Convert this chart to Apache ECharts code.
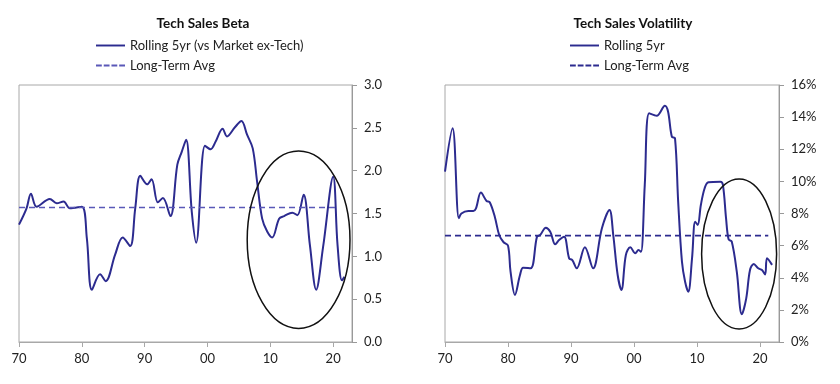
<!DOCTYPE html>
<html><head><meta charset="utf-8">
<script src="https://cdn.jsdelivr.net/npm/echarts@6/dist/echarts.min.js"></script>
<style>
html,body{margin:0;padding:0;background:#fff;}
#wrap{position:relative;width:840px;height:384px;}
#c1{position:absolute;left:0;top:0;width:420px;height:384px;}
#c2{position:absolute;left:420px;top:0;width:420px;height:384px;}
</style></head>
<body><div id="wrap"><div id="c1"></div><div id="c2"></div></div>
<script>
// ---- Data: Tech Sales Beta (rolling 5yr vs Market ex-Tech) ----
const betaYears = [1970.0,1971.2,1971.9,1972.8,1974.9,1976.0,1977.1,1978.1,1980.0,1980.8,1981.6,1982.9,1983.8,1985.3,1986.5,1987.7,1988.5,1989.3,1990.4,1991.1,1992.1,1992.9,1994.1,1995.2,1995.9,1996.6,1997.5,1998.2,1999.6,2000.5,2001.3,2002.4,2003.1,2004.4,2005.4,2006.3,2007.2,2007.9,2008.7,2009.5,2010.3,2011.4,2012.2,2013.5,2014.3,2015.3,2016.3,2017.3,2018.4,2020.0,2020.7,2021.4,2021.8];
const betaValues = [1.37,1.56,1.73,1.58,1.67,1.62,1.64,1.56,1.58,1.21,0.61,0.79,0.71,1.02,1.22,1.12,1.56,1.94,1.84,1.90,1.63,1.68,1.47,2.07,2.22,2.36,1.52,1.16,2.29,2.25,2.34,2.49,2.40,2.51,2.58,2.42,2.26,1.87,1.44,1.29,1.22,1.44,1.47,1.51,1.48,1.72,1.13,0.61,1.11,1.93,1.13,0.72,0.76];
const betaAvg = 1.57;
const betaAvgRange = [1970, 2020.4];

// ---- Data: Tech Sales Volatility (rolling 5yr, %) ----
const volYears = [1970.0,1971.2,1972.2,1972.6,1973.7,1974.5,1974.9,1975.7,1976.6,1977.1,1977.9,1978.6,1979.3,1980.0,1980.4,1981.1,1981.9,1982.4,1983.6,1984.6,1985.1,1986.0,1986.7,1987.5,1988.1,1988.9,1989.7,1990.2,1990.9,1992.2,1993.5,1994.9,1996.1,1996.7,1997.4,1998.0,1998.7,1999.4,2000.2,2000.7,2001.1,2001.7,2002.4,2003.6,2004.9,2005.4,2006.0,2006.5,2007.0,2007.6,2008.1,2008.6,2009.2,2009.7,2010.1,2010.6,2011.2,2011.8,2013.7,2014.1,2014.6,2015.0,2015.5,2016.3,2017.1,2017.8,2018.4,2019.0,2019.7,2020.3,2020.8,2021.1,2021.9];
const volValues = [10.6,13.3,7.7,8.0,8.16,8.16,8.3,9.3,8.78,8.7,7.8,6.66,6.21,6.0,4.38,2.93,4.17,4.63,4.59,6.56,6.66,7.12,6.87,6.08,6.35,6.56,5.21,5.1,4.59,5.9,4.59,7.08,8.22,6.66,4.17,3.24,5.42,5.9,5.52,5.73,5.62,9.78,14.24,14.09,14.71,14.34,12.78,12.68,8.74,5.0,3.75,3.13,5.21,7.49,7.29,8.53,9.57,9.94,9.98,9.78,7.7,6.39,6.25,4.38,1.72,2.72,4.48,4.86,4.59,4.48,4.21,5.21,4.8];
const volAvg = 6.62;
const volAvgRange = [1970, 2021.3];

const lineColor = '#2C2B8F';
const FONT = 'Lato, "Open Sans", sans-serif';
const SOLID_ICON = 'path://M0,0H30V2H0Z';
const DASH_ICON = 'path://M0,0H6V2H0ZM8,0H14V2H8ZM16,0H22V2H16ZM24,0H30V2H24Z';

function pairs(xs, ys){ return xs.map((x,i)=>[x, ys[i]]); }

function makeOption(cfg){
  return {
    animation:false,
    textStyle:{fontFamily:FONT},
    title:{text:cfg.title,left:cfg.titleX,top:12,textAlign:'center',
      textStyle:{fontFamily:FONT,fontSize:13.5,fontWeight:'bold',color:'#111'}},
    legend:{orient:'vertical',left:cfg.legendX,top:34,itemWidth:29,itemHeight:14,itemGap:7,
      textStyle:{fontFamily:FONT,fontSize:13,color:'#222'},
      data:[{name:cfg.lineName,icon:SOLID_ICON},{name:'Long-Term Avg',icon:DASH_ICON}]},
    grid:{left:cfg.gl,right:cfg.gr,top:85,bottom:42,show:true,borderColor:'#a8a8a8',borderWidth:1},
    xAxis:{type:'value',min:1970,max:2023,interval:10,
      axisLine:{show:true,lineStyle:{color:'#a8a8a8'}},
      axisTick:{show:true,length:5,lineStyle:{color:'#a8a8a8'}},
      axisLabel:{margin:10,fontFamily:FONT,fontSize:13,color:'#222',showMaxLabel:false,
        formatter:v=>String(v%100).padStart(2,'0')},
      splitLine:{show:false}},
    yAxis:{type:'value',position:'right',min:cfg.ymin,max:cfg.ymax,interval:cfg.yint,
      axisLine:{show:true,lineStyle:{color:'#999'}},
      axisTick:{show:true,length:5,lineStyle:{color:'#999'}},
      axisLabel:{margin:12,fontFamily:FONT,fontSize:13,color:'#222',formatter:cfg.yfmt},
      splitLine:{show:false}},
    series:[
      {name:cfg.lineName,type:'line',data:cfg.data,smooth:0.35,symbol:'none',
        lineStyle:{color:lineColor,width:2},itemStyle:{color:lineColor}},
      {name:'Long-Term Avg',type:'line',data:cfg.avgData,symbol:'none',
        lineStyle:{color:cfg.avgColor,width:cfg.avgWidth,type:[6,4]},itemStyle:{color:cfg.avgColor}}
    ]
  };
}

const c1 = echarts.init(document.getElementById('c1'));
c1.setOption(makeOption({
  title:'Tech Sales Beta', titleX:198, legendX:91, lineName:'Rolling 5yr (vs Market ex-Tech)',
  gl:19, gr:68, ymin:0, ymax:3, yint:0.5, yfmt:v=>v.toFixed(1),
  data:pairs(betaYears,betaValues),
  avgData:betaAvgRange.map(x=>[x,betaAvg]), avgColor:'#5A58B8', avgWidth:1.3
}));

const c2 = echarts.init(document.getElementById('c2'));
c2.setOption(makeOption({
  title:'Tech Sales Volatility', titleX:208, legendX:145, lineName:'Rolling 5yr',
  gl:25, gr:61, ymin:0, ymax:16, yint:2, yfmt:v=>v+'%',
  data:pairs(volYears,volValues),
  avgData:volAvgRange.map(x=>[x,volAvg]), avgColor:'#2C2B8F', avgWidth:1.8
}));

// Annotation ellipses, defined in data coordinates
function addEllipse(chart, cx, cy, rxData, ryData){
  const c = chart.convertToPixel({gridIndex:0},[cx,cy]);
  const e = chart.convertToPixel({gridIndex:0},[cx+rxData,cy+ryData]);
  chart.setOption({graphic:[{type:'ellipse',z:100,silent:true,
    shape:{cx:c[0],cy:c[1],rx:Math.abs(e[0]-c[0]),ry:Math.abs(e[1]-c[1])},
    style:{fill:'none',stroke:'#111',lineWidth:1.5}}]});
}
addEllipse(c1, 2014.5, 1.194, 8.18, 1.035);
addEllipse(c2, 2016.67, 5.48, 5.95, 4.67);
</script></body></html>
